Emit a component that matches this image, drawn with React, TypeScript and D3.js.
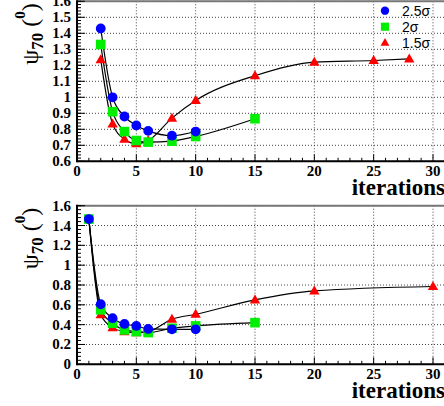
import React from "react";
import * as d3 from "d3";

// ---------- data ----------
const legendLabels = ["2.5σ", "2σ", "1.5σ"];
const xTickValues = [0, 5, 10, 15, 20, 25, 30];

const blueTopX = [2, 3, 4, 5, 6, 8, 10];
const blueTopY = [1.43, 1.0, 0.88, 0.824, 0.79, 0.76, 0.786];
const greenTopX = [2, 3, 4, 5, 6, 8, 10, 15];
const greenTopY = [1.33, 0.91, 0.786, 0.73, 0.72, 0.726, 0.755, 0.866];
const redTopX = [2, 3, 4, 5, 6, 8, 10, 15, 20, 25, 28];
const redTopY = [1.236, 0.834, 0.738, 0.71, 0.73, 0.87, 0.98, 1.135, 1.22, 1.23, 1.24];

const blueBotX = [1, 2, 3, 4, 5, 6, 8, 10];
const blueBotY = [1.465, 0.606, 0.465, 0.407, 0.387, 0.357, 0.353, 0.353];
const greenBotX = [1, 2, 3, 4, 5, 6, 8, 10, 15];
const greenBotY = [1.465, 0.55, 0.414, 0.347, 0.33, 0.32, 0.364, 0.387, 0.42];
const redBotX = [1, 2, 3, 4, 5, 6, 8, 10, 15, 20, 30];
const redBotY = [1.465, 0.5, 0.37, 0.33, 0.32, 0.33, 0.455, 0.505, 0.65, 0.74, 0.785];

const topYTicks = [0.6, 0.7, 0.8, 0.9, 1.0, 1.1, 1.2, 1.3, 1.4, 1.5, 1.6];
const botYTicks = [0, 0.2, 0.4, 0.6, 0.8, 1.0, 1.2, 1.4, 1.6];

const BLUE = "#0000ff";
const GREEN = "#00ee00";
const RED = "#ff0000";
const SERIF = "'Liberation Serif', 'Times New Roman', serif";
const SANS = "'Liberation Sans', Arial, sans-serif";

type Series = { xs: number[]; ys: number[]; color: string; shape: "circle" | "square" | "triangle" };

function Marker({ cx, cy, shape, color, s = 1 }: { cx: number; cy: number; shape: string; color: string; s?: number }) {
  if (shape === "circle") return <circle cx={cx} cy={cy} r={4.9 * s} fill={color} />;
  if (shape === "square") {
    const h = 4.8 * s;
    return <rect x={cx - h} y={cy - h} width={2 * h} height={2 * h} fill={color} />;
  }
  const w = 5.2 * s;
  const ht = 9 * s;
  return (
    <path
      d={`M${cx},${cy - ht * 0.6} L${cx + w},${cy + ht * 0.4} L${cx - w},${cy + ht * 0.4} Z`}
      fill={color}
    />
  );
}

function Panel({
  yDomain,
  yTop,
  yBottom,
  yTicks,
  yMinorStep,
  series,
}: {
  yDomain: [number, number];
  yTop: number;
  yBottom: number;
  yTicks: number[];
  yMinorStep: number;
  series: Series[];
}) {
  const x = d3.scaleLinear().domain([0, 30]).range([77, 433]);
  const y = d3.scaleLinear().domain(yDomain).range([yBottom, yTop]);
  const xLeft = 77;
  const xRight = 446;
  const xMinor = d3.range(0, 32, 1);
  const yMinor = d3.range(yDomain[0], yDomain[1] + 1e-9, yMinorStep);
  const fmt = (v: number) => String(Number(v.toFixed(2)));
  const line = d3
    .line<[number, number]>()
    .x((d) => x(d[0]))
    .y((d) => y(d[1]))
    .curve(d3.curveMonotoneX);

  return (
    <g>
      {/* grid */}
      {yTicks.map((t) => (
        <line key={"gy" + t} x1={xLeft} x2={xRight} y1={y(t)} y2={y(t)} stroke="#444" strokeWidth={1} strokeDasharray="1 2" />
      ))}
      {xTickValues.map((t) => (
        <line key={"gx" + t} x1={x(t)} x2={x(t)} y1={yTop} y2={yBottom} stroke="#444" strokeWidth={1} strokeDasharray="1 2" />
      ))}
      {/* frame top */}
      <line x1={xLeft} x2={xRight} y1={yTop} y2={yTop} stroke="#777" strokeWidth={2} />
      {/* curves */}
      {series.map((s, i) => (
        <path
          key={"c" + i}
          d={line(s.xs.map((v, j) => [v, s.ys[j]] as [number, number])) || ""}
          fill="none"
          stroke="#000"
          strokeWidth={1.2}
        />
      ))}
      {/* markers */}
      {series.map((s, i) => (
        <g key={"m" + i}>
          {s.xs.map((v, j) => (
            <Marker key={j} cx={x(v)} cy={y(s.ys[j])} shape={s.shape} color={s.color} />
          ))}
        </g>
      ))}
      {/* axes */}
      <line x1={xLeft} x2={xRight} y1={yBottom} y2={yBottom} stroke="#000" strokeWidth={2} />
      <line x1={xLeft} x2={xLeft} y1={yTop - 1} y2={yBottom + 1} stroke="#000" strokeWidth={2} />
      {xMinor.map((t) => (
        <line
          key={"xt" + t}
          x1={x(t)}
          x2={x(t)}
          y1={yBottom}
          y2={yBottom - (t % 5 === 0 ? 7 : 3.5)}
          stroke="#000"
          strokeWidth={1}
        />
      ))}
      {yMinor.map((t, i) => (
        <line key={"yt" + i} x1={xLeft} x2={xLeft + 4} y1={y(t)} y2={y(t)} stroke="#000" strokeWidth={1} />
      ))}
      {yTicks.map((t) => (
        <line key={"ytm" + t} x1={xLeft} x2={xLeft + 8} y1={y(t)} y2={y(t)} stroke="#000" strokeWidth={1} />
      ))}
      {/* tick labels */}
      {yTicks.map((t) => (
        <text
          key={"yl" + t}
          x={71}
          y={y(t) + 5}
          textAnchor="end"
          fontFamily={SERIF}
          fontWeight="bold"
          fontSize={15}
        >
          {fmt(t)}
        </text>
      ))}
      {xTickValues.map((t) => (
        <text
          key={"xl" + t}
          x={x(t)}
          y={yBottom + 15}
          textAnchor="middle"
          fontFamily={SERIF}
          fontWeight="bold"
          fontSize={15}
        >
          {t}
        </text>
      ))}
      <text x={445} y={yBottom + 34} textAnchor="end" fontFamily={SERIF} fontWeight="bold" fontSize={23}>
        iterations
      </text>
      {/* y title */}
      <g transform={`translate(38, ${yTop + 2}) rotate(-90)`}>
        <text textAnchor="end" fontFamily={SERIF}>
          <tspan fontSize={24}>ψ</tspan>
          <tspan fontSize={17} fontWeight="bold" dy={5}>70</tspan>
          <tspan fontSize={24} dy={-5}>{" ("}</tspan>
          <tspan fontSize={15} fontWeight="bold" dy={-13}>0</tspan>
          <tspan fontSize={24} dy={13}>)</tspan>
        </text>
      </g>
    </g>
  );
}

export default function App() {
  const topSeries: Series[] = [
    { xs: redTopX, ys: redTopY, color: RED, shape: "triangle" },
    { xs: greenTopX, ys: greenTopY, color: GREEN, shape: "square" },
    { xs: blueTopX, ys: blueTopY, color: BLUE, shape: "circle" },
  ];
  const botSeries: Series[] = [
    { xs: redBotX, ys: redBotY, color: RED, shape: "triangle" },
    { xs: greenBotX, ys: greenBotY, color: GREEN, shape: "square" },
    { xs: blueBotX, ys: blueBotY, color: BLUE, shape: "circle" },
  ];
  const legendShapes = ["circle", "square", "triangle"];
  const legendColors = [BLUE, GREEN, RED];

  return (
    <svg
      width={444}
      height={406}
      style={{ position: "absolute", left: 0, top: 0, background: "#fff" }}
    >
      <rect width={444} height={406} fill="#fff" />
      <Panel yDomain={[0.6, 1.6]} yTop={1.3} yBottom={161.3} yTicks={topYTicks} yMinorStep={0.02} series={topSeries} />
      <Panel yDomain={[0, 1.6]} yTop={205.7} yBottom={364.3} yTicks={botYTicks} yMinorStep={0.04} series={botSeries} />
      {/* legend */}
      {legendLabels.map((lab, i) => (
        <g key={lab}>
          <Marker cx={385} cy={10.7 + i * 16} shape={legendShapes[i]} color={legendColors[i]} s={0.85} />
          <text x={402} y={15.5 + i * 16} fontFamily={SANS} fontSize={14}>
            {lab}
          </text>
        </g>
      ))}
    </svg>
  );
}
